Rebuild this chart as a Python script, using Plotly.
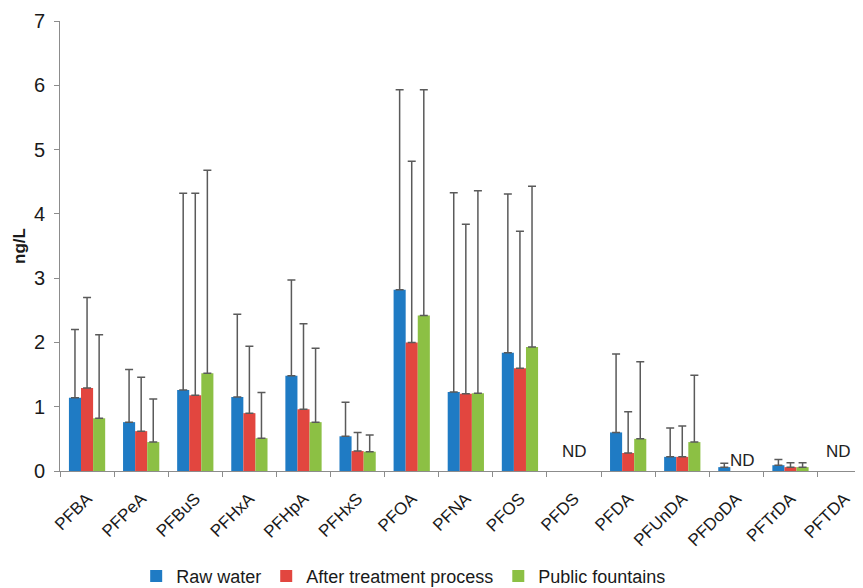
import plotly.graph_objects as go

categories = ["PFBA", "PFPeA", "PFBuS", "PFHxA", "PFHpA", "PFHxS", "PFOA", "PFNA",
              "PFOS", "PFDS", "PFDA", "PFUnDA", "PFDoDA", "PFTrDA", "PFTDA"]

raw_water = [1.14, 0.76, 1.26, 1.15, 1.48, 0.54, 2.82, 1.23, 1.84, None, 0.60, 0.22, 0.06, 0.09, None]
raw_water_top = [2.20, 1.58, 4.32, 2.44, 2.97, 1.07, 5.93, 4.33, 4.31, None, 1.82, 0.67, 0.12, 0.18, None]

after_treatment = [1.29, 0.62, 1.18, 0.90, 0.96, 0.31, 2.00, 1.20, 1.60, None, 0.28, 0.22, None, 0.06, None]
after_treatment_top = [2.70, 1.46, 4.32, 1.94, 2.29, 0.60, 4.82, 3.84, 3.73, None, 0.92, 0.70, None, 0.13, None]

public_fountains = [0.82, 0.45, 1.52, 0.51, 0.76, 0.30, 2.42, 1.21, 1.93, None, 0.50, 0.45, None, 0.06, None]
public_fountains_top = [2.12, 1.12, 4.68, 1.22, 1.91, 0.56, 5.93, 4.36, 4.43, None, 1.70, 1.49, None, 0.13, None]

nd_labels = [("PFDS", 0.30, 0), ("PFDoDA", 0.17, 6), ("PFTDA", 0.30, -6)]

series = [
    ("Raw water", raw_water, raw_water_top, "#1f7bc4"),
    ("After treatment process", after_treatment, after_treatment_top, "#e2463f"),
    ("Public fountains", public_fountains, public_fountains_top, "#8cc044"),
]

fig = go.Figure()
for name, vals, tops, color in series:
    plus = [(t - v) if (v is not None and t is not None) else None for v, t in zip(vals, tops)]
    fig.add_trace(go.Bar(
        name=name, x=categories, y=vals, marker=dict(color=color, line=dict(width=0)),
        error_y=dict(type="data", array=plus, arrayminus=[0] * len(plus), symmetric=False,
                     color="#5a5a5a", thickness=1.5, width=4),
    ))

for cat, yv, xs in nd_labels:
    fig.add_annotation(x=cat, y=yv, text="ND", showarrow=False, xshift=xs,
                       font=dict(family="Liberation Sans, Arial", size=17, color="#222"))

fig.update_layout(
    width=855, height=580,
    margin=dict(l=52, r=0, t=13, b=117, autoexpand=False),
    paper_bgcolor="white", plot_bgcolor="white",
    barmode="group", bargap=0.33, bargroupgap=0,
    font=dict(family="Liberation Sans, Arial", color="#1a1a1a"),
    showlegend=True,
    legend=dict(orientation="h", x=0.428, xanchor="center", yref="container",
                y=0.02, yanchor="middle", font=dict(size=18), traceorder="normal"),
    xaxis=dict(range=[-0.5, 14.34], showline=True, linecolor="#8c8c8c", linewidth=1,
               ticks="outside", tickson="boundaries", ticklen=5, tickcolor="#8c8c8c",
               tickangle=-45, tickfont=dict(size=17), showgrid=False, zeroline=False,
               ticklabelstandoff=10, automargin=False),
    yaxis=dict(range=[0, 7], dtick=1, showline=True, linecolor="#8c8c8c", linewidth=1,
               ticks="outside", ticklen=5, tickcolor="#8c8c8c", showgrid=False,
               zeroline=False, tickfont=dict(size=20), ticklabelstandoff=5,
               automargin=False,
               title=dict(text="<b>ng/L</b>", font=dict(size=17), standoff=3)),
)

fig.write_html("out.html")
